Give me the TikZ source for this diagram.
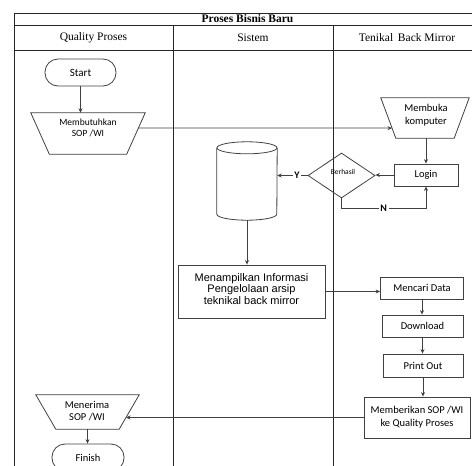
\documentclass[tikz,border=0pt]{standalone}
\usepackage{fontspec}
\setmainfont{Liberation Serif}
\newfontfamily\calibri{Carlito}
\newfontfamily\arial{Liberation Sans}
\usetikzlibrary{shapes.geometric,arrows.meta,calc}

\begin{document}
\begin{tikzpicture}[x=1pt,y=-1pt,
  grid/.style={draw=black!85, line width=0.85pt},
  flow/.style={draw=black!75, line width=0.8pt},
  arr/.style={flow, -{Stealth[length=4.5pt,width=4pt]}},
  outline/.style={draw=black!75, line width=0.8pt},
  cfont/.style={font=\calibri\fontsize{10.5}{13}\selectfont},
  box/.style={outline, rectangle, inner sep=0pt, align=center, cfont},
  term/.style={box, rounded corners=13pt},
  frame/.style={rectangle, inner sep=0pt},
  lbl/.style={inner sep=0pt, align=center},
  yn/.style={fill=white, inner sep=1.5pt, font=\calibri\bfseries\fontsize{10}{12}\selectfont},
]
\useasboundingbox (0,0) rectangle (472,466);

% swimlane table
\draw[grid] (14,13) -- (482,13);
\draw[grid] (14,25) -- (482,25);
\draw[grid] (14,50) -- (482,50);
\draw[grid] (14,13) -- (14,470);
\draw[grid] (173,25) -- (173,470);
\draw[grid] (333,25) -- (333,470);
\node[lbl, font=\bfseries\fontsize{11.5}{13}\selectfont] (title) at (247.5,19) {Proses Bisnis Baru};
\node[lbl, font=\fontsize{11.5}{13}\selectfont] (lane1) at (93.5,37.5) {Quality Proses};
\node[lbl, font=\fontsize{11.5}{13}\selectfont] (lane2) at (253,37.5) {Sistem};
\node[lbl, font=\fontsize{11.5}{13}\selectfont] (lane3) at (407,37.5) {Tenikal\, Back Mirror};

% ---- Quality Proses lane
\node[term, minimum width=71pt, minimum height=27pt, font=\calibri\fontsize{11}{13}\selectfont] (start) at (80.5,72.5) {Start};

% manual input trapezium: wide edge on top
\node[frame, minimum width=114pt, minimum height=41pt] (mbt) at (88,133.5) {};
\draw[outline] (mbt.north west) -- (mbt.north east) -- ([xshift=-18.5pt]mbt.south east)
  -- ([xshift=18.5pt]mbt.south west) -- cycle;
\path (mbt.north east) -- ([xshift=-18.5pt]mbt.south east) coordinate[pos=0.366] (mbtR);
\node[lbl, font=\calibri\fontsize{9.5}{10.5}\selectfont] (mbttext) at (88,128) {Membutuhkan\\SOP /WI};

\node[frame, minimum width=103pt, minimum height=34pt] (mn) at (87.5,412) {};
\draw[outline] (mn.north west) -- (mn.north east) -- ([xshift=-20pt]mn.south east)
  -- ([xshift=20pt]mn.south west) -- cycle;
\path (mn.north east) -- ([xshift=-20pt]mn.south east) coordinate[pos=0.66] (mnR);
\node[lbl, font=\calibri\fontsize{10.5}{12}\selectfont] (mntext) at (87,411) {Menerima\\SOP /WI};

\node[term, minimum width=72pt, minimum height=27pt, font=\calibri\fontsize{10.5}{13}\selectfont] (fin) at (88,457.5) {Finish};

% ---- Sistem lane
\node[frame, minimum width=60pt, minimum height=78pt] (db) at (247,181) {};
\draw[outline] ([yshift=-6pt]db.north) ellipse[x radius=30, y radius=6];
\draw[outline] ([yshift=-6pt]db.north west) -- ([yshift=6pt]db.south west)
  arc[start angle=180, end angle=0, x radius=30, y radius=6] -- ([yshift=-6pt]db.north east);
\node[box, minimum width=147pt, minimum height=53pt, font=\arial\fontsize{11}{11.5}\selectfont,
  text depth=5pt] (mt) at (251.5,291.5) {Menampilkan Informasi\\Pengelolaan arsip\\teknikal back mirror};

% ---- Tenikal Back Mirror lane
\node[frame, minimum width=88pt, minimum height=40pt] (mbk) at (425,118) {};
\draw[outline] (mbk.north west) -- (mbk.north east) -- ([xshift=-15pt]mbk.south east)
  -- ([xshift=15pt]mbk.south west) -- cycle;
\path (mbk.north west) -- ([xshift=15pt]mbk.south west) coordinate[pos=0.75] (mbkL);
\node[lbl, font=\calibri\fontsize{10.5}{13}\selectfont] (mbktext) at (426,115.5) {Membuka\\komputer};

\node[box, minimum width=64pt, minimum height=22pt] (login) at (426,175) {Login};
\node[diamond, outline, inner sep=0pt, minimum width=67pt, minimum height=45pt] (d) at (341.5,175.5) {};
\node[lbl, font=\calibri\fontsize{7.5}{9}\selectfont] (dtext) at (343,172) {Berhasil};
\node[box, minimum width=83pt, minimum height=22pt] (mc) at (422,288) {Mencari Data};
\node[box, minimum width=81pt, minimum height=22pt] (dl) at (422.5,326) {Download};
\node[box, minimum width=80pt, minimum height=23pt] (po) at (423,365.5) {Print Out};
\node[box, minimum width=106pt, minimum height=41pt] (mb) at (417,417.5) {Memberikan SOP /WI\\ke Quality Proses};

% ---- connectors
\draw[arr] (start.south) -- (start.south |- mbt.north);
\draw[arr] (mbtR) -- (mbkL);
\draw[arr] (mbk.south -| login) -- (login.north);
\draw[arr] (login.west) -- (login.west -| d.east);
\draw[arr] (d.west) -- node[yn, pos=0.35] {Y} (d.west -| db.east);
\draw[arr] (d.south) -- ++(0,10) -| node[yn, pos=0.25] {N} (login.south);
\draw[arr] (db.south) -- (db.south |- mt.north);
\draw[arr] (mt.east) -- (mt.east -| mc.west);
\draw[arr] (mc.south) -- (mc.south |- dl.north);
\draw[arr] (dl.south) -- (dl.south |- po.north);
\draw[arr] (po.south) -- (po.south |- mb.north);
\draw[arr] (mb.west) -- (mb.west -| mnR);
\draw[arr] (mn.south) -- (mn.south |- fin.north);
\end{tikzpicture}
\end{document}
